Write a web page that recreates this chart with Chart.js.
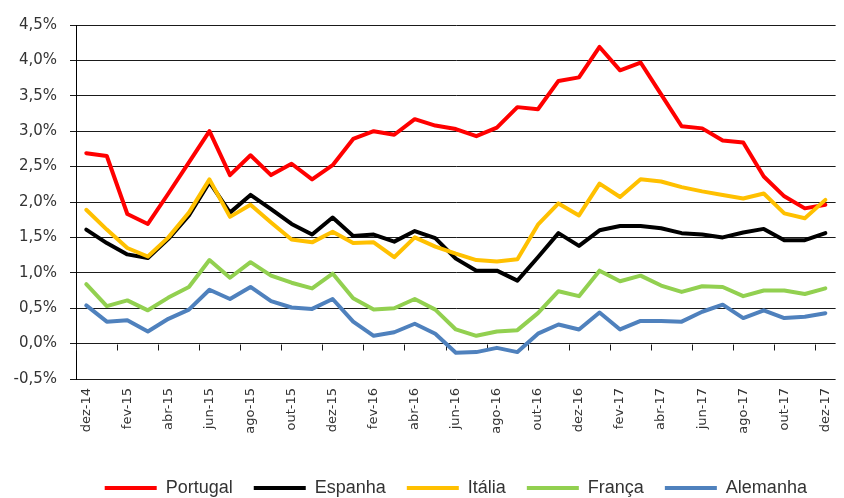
<!DOCTYPE html>
<html>
<head>
<meta charset="utf-8">
<script src="https://cdn.jsdelivr.net/npm/chart.js@4.4.1/dist/chart.umd.min.js"></script>
<style>
  html, body { margin: 0; padding: 0; background: #ffffff; overflow: hidden; }
  #wrap { position: absolute; left: 0; top: 0; width: 850px; height: 507px; }
</style>
</head>
<body>
<div id="wrap"><canvas id="c"></canvas></div>
<script>
const categories = ['dez-14','jan-15','fev-15','mar-15','abr-15','mai-15','jun-15','jul-15','ago-15','set-15','out-15','nov-15',
  'dez-15','jan-16','fev-16','mar-16','abr-16','mai-16','jun-16','jul-16','ago-16','set-16','out-16','nov-16',
  'dez-16','jan-17','fev-17','mar-17','abr-17','mai-17','jun-17','jul-17','ago-17','set-17','out-17','nov-17','dez-17'];

const portugal = [2.69, 2.65, 1.83, 1.69, 2.12, 2.56, 3.00, 2.38, 2.66, 2.38, 2.54, 2.32, 2.52, 2.89, 3.00, 2.95, 3.17, 3.08, 3.03, 2.93, 3.05, 3.34, 3.31, 3.71, 3.76, 4.19, 3.86, 3.97, 3.52, 3.07, 3.04, 2.87, 2.84, 2.36, 2.08, 1.91, 1.96];
const espanha  = [1.61, 1.42, 1.26, 1.21, 1.48, 1.81, 2.28, 1.85, 2.10, 1.90, 1.69, 1.54, 1.78, 1.52, 1.54, 1.44, 1.59, 1.49, 1.20, 1.03, 1.03, 0.89, 1.22, 1.56, 1.38, 1.60, 1.66, 1.66, 1.63, 1.56, 1.54, 1.50, 1.57, 1.62, 1.46, 1.46, 1.56];
const italia   = [1.89, 1.61, 1.35, 1.23, 1.50, 1.85, 2.32, 1.79, 1.96, 1.71, 1.47, 1.43, 1.58, 1.42, 1.43, 1.22, 1.50, 1.37, 1.27, 1.18, 1.16, 1.19, 1.68, 1.98, 1.81, 2.26, 2.07, 2.32, 2.29, 2.21, 2.15, 2.10, 2.05, 2.12, 1.84, 1.77, 2.03];
const franca   = [0.84, 0.53, 0.61, 0.47, 0.65, 0.80, 1.18, 0.93, 1.15, 0.96, 0.86, 0.78, 0.99, 0.64, 0.48, 0.50, 0.63, 0.48, 0.20, 0.11, 0.17, 0.19, 0.43, 0.74, 0.67, 1.03, 0.88, 0.96, 0.82, 0.73, 0.81, 0.80, 0.67, 0.75, 0.75, 0.70, 0.78];
const alemanha = [0.54, 0.31, 0.33, 0.17, 0.35, 0.48, 0.76, 0.63, 0.80, 0.60, 0.51, 0.49, 0.63, 0.31, 0.11, 0.16, 0.28, 0.14, -0.13, -0.12, -0.06, -0.12, 0.14, 0.27, 0.20, 0.44, 0.20, 0.32, 0.32, 0.31, 0.45, 0.55, 0.36, 0.47, 0.36, 0.38, 0.43];

const seriesNames = ['Portugal', 'Espanha', 'Itália', 'França', 'Alemanha'];
const seriesColors = ['#FF0000', '#000000', '#FFC000', '#92D050', '#4F81BD'];
const seriesData = [portugal, espanha, italia, franca, alemanha];

const yMin = -0.5, yMax = 4.5, yStep = 0.5;

const LEGEND_FONT = 18, LEGEND_PAD = 21;
const LEGEND_H = LEGEND_FONT + LEGEND_PAD + 10;
const CANVAS_H = 507;
const PLOT_BOTTOM = 379;

const zeroTicks = {
  id: 'zeroTicks',
  beforeDatasetsDraw(chart) {
    const x = chart.scales.x, y = chart.scales.y, ctx = chart.ctx;
    const y0 = Math.round(y.getPixelForValue(0)) + 0.5;
    const step = x.getPixelForValue(1) - x.getPixelForValue(0);
    ctx.save();
    ctx.strokeStyle = '#1a1a1a';
    ctx.lineWidth = 1;
    ctx.beginPath();
    for (let k = 0; 2 * k - 0.5 < categories.length; k++) {
      const px = Math.round(x.getPixelForValue(0) - step / 2 + 2 * k * step) + 0.5;
      ctx.moveTo(px, y0);
      ctx.lineTo(px, y0 + 6);
    }
    ctx.stroke();
    ctx.restore();
  }
};

const datasets = seriesNames.map((name, i) => ({
  label: name,
  data: seriesData[i],
  borderColor: seriesColors[i],
  backgroundColor: seriesColors[i],
  borderWidth: 4,
  pointRadius: 0,
  pointHoverRadius: 0,
  tension: 0,
  borderJoinStyle: 'round',
  borderCapStyle: 'round',
  order: seriesNames.length - i
}));

new Chart(document.getElementById('c'), {
  type: 'line',
  data: { labels: categories, datasets },
  plugins: [zeroTicks],
  options: {
    responsive: true,
    maintainAspectRatio: false,
    devicePixelRatio: 1,
    animation: false,
    layout: { padding: { top: 25, right: 3, left: 0, bottom: 0 } },
    plugins: {
      tooltip: { enabled: false },
      legend: {
        position: 'bottom',
        fullSize: false,
        labels: {
          boxWidth: 52,
          boxHeight: 4,
          padding: LEGEND_PAD,
          color: '#333333',
          font: { family: 'Liberation Sans', size: LEGEND_FONT },
          sort: (a, b) => a.datasetIndex - b.datasetIndex,
          generateLabels: (chart) => Chart.defaults.plugins.legend.labels.generateLabels(chart)
            .map(l => Object.assign({}, l, { lineWidth: 0, fillStyle: l.strokeStyle }))
        }
      }
    },
    scales: {
      x: {
        type: 'category',
        offset: true,
        grid: { display: false, drawTicks: false },
        border: { display: false },
        ticks: {
          autoSkip: false,
          maxRotation: 90,
          minRotation: 90,
          padding: 9,
          color: '#333333',
          font: { family: 'DejaVu Sans', size: 13 },
          callback: (v, idx) => (idx % 2 === 0 ? categories[idx] : '')
        },
        afterFit: (s) => { s.height = CANVAS_H - PLOT_BOTTOM - LEGEND_H; }
      },
      y: {
        min: yMin,
        max: yMax,
        grid: { color: '#1a1a1a', lineWidth: 1, drawTicks: true, tickLength: 6 },
        border: { display: true, color: '#000000', width: 1 },
        ticks: {
          stepSize: yStep,
          padding: 13,
          color: '#333333',
          font: { family: 'DejaVu Sans', size: 15 },
          callback: (v) => v.toFixed(1).replace('.', ',') + '%'
        },
        afterFit: (s) => { s.width = 76; }
      }
    }
  }
});
</script>
</body>
</html>
